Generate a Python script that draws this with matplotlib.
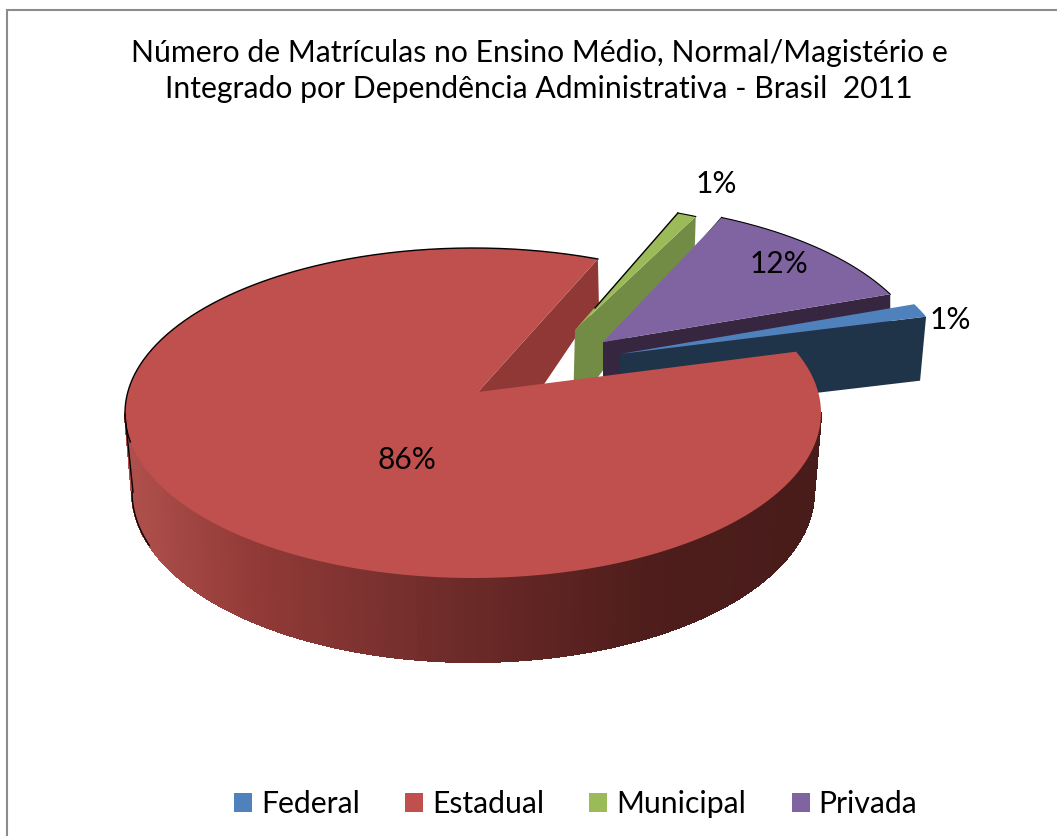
import numpy as np
import matplotlib
matplotlib.use("Agg")
import matplotlib.pyplot as plt
from matplotlib.patches import Patch, Polygon

plt.rcParams['font.family'] = ['Lato', 'DejaVu Sans']

# dados
categorias = ['Federal', 'Estadual', 'Municipal', 'Privada']
valores = [1.4, 85.6, 1.0, 12.0]
titulo = 'Número de Matrículas no Ensino Médio, Normal/Magistério e\nIntegrado por Dependência Administrativa - Brasil  2011'

# cores
cores_topo = ['#4F81BD', '#C0504D', '#9BBB59', '#8064A2']
cores_lado = ['#1F3349', '#8F3835', '#738C45', '#36263F']

# geometria da pizza em pixels da imagem
cx, cy, a, b = 473, 413, 348, 165
cx2, cy2, a2, b2 = 473, 492, 341, 170
apice_base = (478, 392)
inicio = 69.8  # graus, sentido horario a partir do norte
# deslocamento da fatia e do apice de cada uma
desloc = [(130, -35), (0, 0), (80, -46), (106, -45)]
apices = [(620, 354), (478, 392), (575, 330), (603, 342)]
# quanto a face de corte desce no aro e no apice
face_aro = [(-6, 64), (1, 44), (-1, 33), (0, 40)]
face_apice = [(0, 62), (0, 90), (-2, 80), (0, 40)]
pos_rotulos = [(950, 320), (407, 460), (716, 184), (779, 264)]


# perspectiva: leva o angulo real para o angulo na elipse
p_klein = complex((apice_base[0] - cx) / a, (apice_base[1] - cy) / b)
p = p_klein / 2


def angulo_elipse(theta):
    t = np.radians(theta)
    z = np.sin(t) - 1j * np.cos(t)
    w = (z + p) / (1 + np.conj(p) * z)
    return w


def aro(theta):
    w = angulo_elipse(theta)
    return np.column_stack([cx + a * w.real, cy + b * w.imag])


fig = plt.figure(figsize=(10.57, 8.36), dpi=100)
ax = fig.add_axes([0, 0, 1, 1])
ax.set_xlim(0, 1057)
ax.set_ylim(836, 0)
ax.axis('off')

# moldura: so esquerda e topo aparecem no recorte
ax.plot([7, 7, 1057], [836, 10, 10], color='#8c8c8c', lw=1.5, solid_joinstyle='miter')

# limites de cada fatia
fracoes = np.cumsum([0] + valores) / sum(valores) * 360 + inicio
limites = list(zip(fracoes[:-1], fracoes[1:]))


def topo_fatia(i):
    t0, t1 = limites[i]
    pts = aro(np.linspace(t0, t1, 300)) + np.array(desloc[i])
    return np.vstack([apices[i], pts])


def desenha_face(i, z):
    fim = aro(np.array([limites[i][1]]))[0] + np.array(desloc[i])
    pts = [apices[i], fim, fim + np.array(face_aro[i]), np.array(apices[i]) + np.array(face_apice[i])]
    ax.add_patch(Polygon(pts, closed=True, fc=cores_lado[i], ec='none', zorder=z))


# fatias de tras para a frente
desenha_face(1, 2)
for z, i in [(3, 2), (5, 3), (7, 0)]:
    desenha_face(i, z)
    ax.add_patch(Polygon(topo_fatia(i), closed=True, fc=cores_topo[i], ec='none', zorder=z + 1))

# lateral da fatia estadual com degrade
fi = np.linspace(np.pi / 2, 3 * np.pi / 2, 160)
x_sup = cx + a * np.sin(fi)
y_sup = cy - b * np.cos(fi)
x_inf = cx2 + a2 * np.sin(fi)
y_inf = cy2 - b2 * np.cos(fi)
xs_cor = [125, 250, 380, 520, 650, 820]
rs = [176, 146, 122, 98, 78, 72]
gs = [80, 58, 49, 38, 29, 28]
bs = [76, 55, 47, 36, 28, 26]
for k in range(len(fi) - 1):
    xm = (x_sup[k] + x_sup[k + 1]) / 2
    cor = (np.interp(xm, xs_cor, rs) / 255, np.interp(xm, xs_cor, gs) / 255, np.interp(xm, xs_cor, bs) / 255)
    ax.add_patch(Polygon([(x_sup[k], y_sup[k]), (x_sup[k + 1], y_sup[k + 1]),
                          (x_inf[k + 1], y_inf[k + 1]), (x_inf[k], y_inf[k])],
                         closed=True, fc=cor, ec=cor, lw=0.8, antialiased=False, zorder=9))

ax.add_patch(Polygon(topo_fatia(1), closed=True, fc=cores_topo[1], ec='none', zorder=10))

# contorno preto fino nas bordas de tras
pts = aro(np.linspace(limites[1][1] - 130, limites[1][1], 200))
ax.plot(pts[:, 0], pts[:, 1], color='black', lw=1, zorder=11)
esq = np.linspace(3 * np.pi / 2 - 0.32, 3 * np.pi / 2, 30)
ax.plot(cx2 + a2 * np.sin(esq), cy2 - b2 * np.cos(esq), color='black', lw=1, zorder=11)
ax.plot([125, 133], [415, 492], color='black', lw=1, zorder=11)
for i in [2, 3]:
    tp = topo_fatia(i)
    ax.plot(tp[1:, 0], tp[1:, 1], color='black', lw=0.8, zorder=11)
tp = topo_fatia(2)
ax.plot([apices[2][0] + 20, tp[1, 0]], [apices[2][1] - 22, tp[1, 1]], color='black', lw=1, zorder=11)
tp = topo_fatia(3)
ax.plot([695, tp[1, 0]], [248, tp[1, 1]], color='black', lw=1, zorder=4)

# rotulos
for v, (x, y) in zip(valores, pos_rotulos):
    ax.text(x, y, f'{v:.0f}%', ha='center', va='center', fontsize=21.5, color='black', zorder=12)

# titulo
ax.text(539, 71, titulo, ha='center', va='center', fontsize=21.7, color='black', linespacing=1.38, zorder=12)

# legenda
alcas = [Patch(fc=c, ec='none', label=n) for c, n in zip(cores_topo, categorias)]
ax.legend(handles=alcas, ncol=4, loc='center', bbox_to_anchor=(575.5 / 1057, 1 - 804 / 836),
          frameon=False, fontsize=21.7, handlelength=0.6, handleheight=0.6,
          handletextpad=0.3, columnspacing=1.5, borderpad=0, labelspacing=0)

fig.savefig('out.png', dpi=100)
